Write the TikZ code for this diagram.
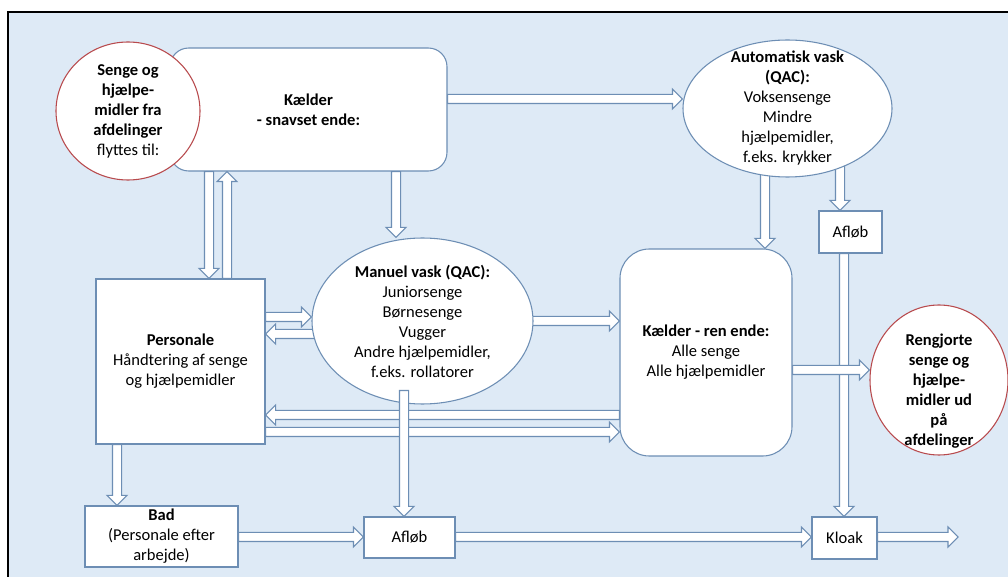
\documentclass[tikz,border=0pt]{standalone}
\usepackage{fontspec}
\setmainfont{Carlito}
\usepackage{tikz}
\usetikzlibrary{calc,shapes.geometric,positioning}

\definecolor{baggrund}{HTML}{DEEAF6}
\definecolor{kant}{HTML}{6D8EB4}
\definecolor{rodkant}{HTML}{B84A4D}

\newcommand{\skaft}{3.4pt}
\newcommand{\hoved}{7.5pt}
\newcommand{\hovedl}{7.5pt}

\pgfdeclarelayer{pile}
\pgfsetlayers{pile,main}

\tikzset{
    boks/.style={draw=kant, fill=white, line width=0.8pt, align=center, inner sep=2pt},
    rund/.style={boks, rounded corners=#1},
    oval/.style={draw=kant, fill=white, line width=0.8pt, ellipse, inner sep=0pt},
    afd/.style={draw=rodkant, fill=white, line width=0.8pt, ellipse, inner sep=0pt},
    tekst/.style={align=center, inner sep=0pt},
    pil/.style={draw=kant, fill=white, line width=0.8pt, line join=miter,
        to path={($(\tikztostart)!\skaft!90:(\tikztotarget)$)
            -- ($(\tikztotarget)!\hovedl!(\tikztostart)!\skaft!-90:(\tikztostart)$)
            -- ($(\tikztotarget)!\hovedl!(\tikztostart)!\hoved!-90:(\tikztostart)$)
            -- (\tikztotarget)
            -- ($(\tikztotarget)!\hovedl!(\tikztostart)!\hoved!90:(\tikztostart)$)
            -- ($(\tikztotarget)!\hovedl!(\tikztostart)!\skaft!90:(\tikztostart)$)
            -- ($(\tikztostart)!\skaft!-90:(\tikztotarget)$) -- cycle}}
}

\begin{document}
\begin{tikzpicture}[x=0.75pt, y=-0.75pt, font=\fontsize{12.4pt}{15pt}\selectfont]
            \useasboundingbox (0,0) rectangle (1008,577);

            % kaelder, snavset ende
            \node[rund=14pt, minimum width=207.75pt, minimum height=92.25pt] (kaelder) at (308.5,109.5)
                {\textbf{Kælder}\\ \textbf{- snavset ende:}};
            \node[afd, minimum width=108pt, minimum height=103.5pt,
                label={[tekst]center:{\textbf{Senge og}\\ \textbf{hjælpe-}\\ \textbf{midler fra}\\ \textbf{afdelinger}\\ flyttes til:}}]
                (senge) at (128,111) {};

            \node[oval, minimum width=156.75pt, minimum height=102.75pt,
                label={[tekst]center:{\textbf{Automatisk vask}\\ \textbf{(QAC):}\\ Voksensenge\\ Mindre\\ hjælpemidler,\\ f.eks. krykker}}]
                (autovask) at (787.5,108.5) {};
            \node[boks, minimum width=47.25pt, minimum height=31.5pt] (afloebA) at (850.5,232) {Afløb};

            \node[oval, minimum width=165.75pt, minimum height=124.5pt,
                label={[tekst]center:{\textbf{Manuel vask (QAC):}\\ Juniorsenge\\ Børnesenge\\ Vugger\\ Andre hjælpemidler,\\ f.eks. rollatorer}}]
                (manuel) at (422.5,321) {};
            \node[boks, minimum width=126.75pt, minimum height=123.75pt] (personale) at (180.5,361.5)
                {\textbf{Personale}\\ Håndtering af senge\\ og hjælpemidler};

            % kaelder, ren ende
            \node[rund=22pt, minimum width=129pt, minimum height=155.25pt] (renende) at (706,352.5)
                {\textbf{Kælder - ren ende:}\\ Alle senge\\ Alle hjælpemidler};
            \node[afd, minimum width=103.5pt, minimum height=112.5pt,
                label={[tekst, yshift=-8.6pt]center:{\textbf{Rengjorte}\\ \textbf{senge og}\\ \textbf{hjælpe-}\\ \textbf{midler ud}\\ \textbf{på}\\ \textbf{afdelinger}}}]
                (rengjort) at (939,380) {};

            % bad og afloeb
            \node[boks, minimum width=114.75pt, minimum height=45.75pt] (bad) at (161.5,536.5)
                {\textbf{Bad}\\ (Personale efter\\ arbejde)};
            \node[boks, minimum width=68.25pt, minimum height=30.75pt] (afloebB) at (409.5,537.5) {Afløb};
            \node[boks, minimum width=48.75pt, minimum height=31.5pt] (kloak) at (844.5,538) {Kloak};
            \coordinate (udloeb) at (958,537);

            \begin{pgfonlayer}{pile}
            \fill[baggrund] (8,12) rectangle (1012,580);
            \draw[line width=1.5pt] (8,580) -- (8,12) -- (1012,12);

            \draw[pil] (kaelder.east |- 0,99) to (autovask.west |- 0,99);
            \draw[pil] (kaelder.south -| 209,0) to (personale.north -| 209,0);
            \draw[pil] (personale.north -| 227,0) to (kaelder.south -| 227,0);
            \draw[pil] (kaelder.south -| 396,0) to (manuel.north -| 396,0);

            \draw[pil] (personale.east |- 0,317) to (manuel.west |- 0,317);
            \draw[pil] (manuel.center |- 0,334) to (personale.east |- 0,334);
            \draw[pil] (manuel.center |- 0,321) to (renende.west |- 0,321);
            \draw[pil] (renende.west |- 0,415) to (personale.east |- 0,415);
            \draw[pil] (personale.east |- 0,432) to (renende.west |- 0,432);

            \draw[pil] (autovask.center -| 765,0) to (renende.north -| 765,0);
            \draw[pil] (autovask.center -| 840,0) to (afloebA.north -| 840,0);
            \draw[pil] (afloebA.south -| 844,0) to (kloak.north -| 844,0);
            \draw[pil] (renende.east |- 0,370) to (rengjort.west |- 0,370);

            \draw[pil] (personale.south -| 117,0) to (bad.north -| 117,0);
            \draw[pil] (bad.east |- 0,537) to (afloebB.west |- 0,537);
            \draw[pil] (afloebB.east |- 0,537) to (kloak.west |- 0,537);
            \draw[pil] (kloak.east |- 0,537) to (udloeb);
            \end{pgfonlayer}

            \draw[pil] ($(manuel.south -| 404,0)+(0,-14)$) to (afloebB.north -| 404,0);
        \end{tikzpicture}
\end{document}
